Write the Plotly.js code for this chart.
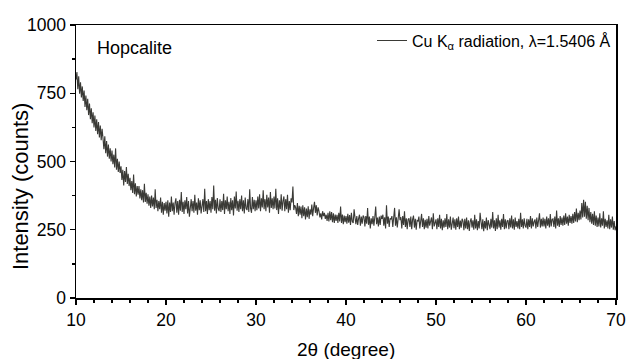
<!DOCTYPE html>
<html>
<head>
<meta charset="utf-8">
<script src="https://cdn.plot.ly/plotly-3.0.1.min.js"></script>
<style>html,body{margin:0;padding:0;background:#fff;}#chart{width:628px;height:359px;}</style>
</head>
<body>
<div id="chart"></div>
<script>
// 2θ scan grid: start 10°, step 0.1°, one value per step
const scanStart = 10.0;
const scanStep = 0.1;
// Intensity (counts), read row by row (each row = 1 degree)
const intensity = [
  800, 828, 765, 812, 748, 790, 735, 775, 722, 760,
  700, 742, 688, 730, 670, 712, 655, 695, 640, 680,
  625, 668, 612, 655, 600, 645, 588, 632, 578, 620,
  585, 545, 592, 530, 575, 518, 562, 510, 548, 500,
  540, 490, 525, 478, 548, 470, 510, 462, 500, 458,
  482, 432, 470, 412, 465, 425, 480, 418, 455, 410,
  440, 395, 428, 385, 452, 380, 420, 372, 410, 378,
  410, 365, 398, 358, 395, 350, 418, 352, 385, 345,
  380, 338, 372, 330, 375, 335, 368, 325, 398, 330,
  360, 318, 355, 325, 368, 312, 352, 305, 348, 320,
  352, 310, 358, 298, 350, 315, 372, 318, 350, 305,
  348, 365, 312, 355, 305, 360, 320, 388, 315, 352,
  308, 358, 325, 370, 310, 355, 298, 348, 362, 318,
  355, 312, 378, 320, 350, 305, 365, 322, 358, 310,
  348, 362, 315, 400, 318, 355, 308, 362, 322, 355,
  312, 370, 325, 412, 320, 360, 310, 366, 328, 318,
  362, 315, 355, 322, 382, 308, 358, 325, 372, 318,
  352, 308, 366, 322, 358, 302, 372, 328, 390, 320,
  356, 315, 362, 325, 375, 318, 358, 310, 368, 328,
  322, 362, 315, 398, 328, 312, 370, 325, 360, 318,
  358, 322, 372, 328, 380, 318, 365, 332, 395, 325,
  362, 318, 378, 332, 368, 312, 388, 330, 365, 325,
  372, 328, 400, 322, 365, 308, 358, 325, 380, 320,
  355, 372, 318, 362, 325, 378, 312, 355, 322, 365,
  350, 408, 322, 340, 332, 308, 348, 300, 338, 305,
  335, 292, 340, 300, 332, 288, 328, 296, 336, 290,
  325, 305, 342, 300, 330, 352, 312, 340, 302, 332,
  318, 295, 310, 288, 318, 300, 312, 290, 305, 282,
  312, 280, 318, 285, 315, 278, 310, 275, 306, 282,
  305, 275, 312, 280, 335, 275, 306, 270, 302, 278,
  300, 272, 308, 276, 304, 268, 312, 280, 275, 325,
  295, 270, 300, 268, 292, 305, 265, 298, 272, 302,
  296, 262, 300, 272, 330, 268, 298, 255, 292, 270,
  300, 265, 296, 335, 270, 295, 262, 298, 268, 302,
  290, 305, 265, 296, 255, 340, 272, 298, 260, 292,
  288, 300, 260, 292, 330, 265, 296, 258, 290, 325,
  285, 296, 255, 300, 268, 318, 260, 292, 252, 288,
  292, 260, 298, 252, 288, 302, 258, 290, 250, 284,
  282, 298, 255, 288, 308, 260, 292, 252, 286, 258,
  290, 255, 300, 265, 282, 295, 252, 310, 262, 280,
  288, 252, 292, 260, 305, 255, 290, 248, 285, 258,
  292, 260, 308, 252, 288, 258, 298, 250, 284, 295,
  256, 288, 250, 292, 260, 298, 252, 284, 258, 290,
  282, 248, 290, 255, 295, 252, 285, 246, 280, 292,
  258, 285, 250, 305, 255, 288, 248, 282, 255, 312,
  280, 252, 288, 245, 282, 255, 295, 248, 285, 258,
  252, 290, 258, 315, 255, 285, 246, 292, 252, 305,
  258, 285, 250, 290, 260, 308, 252, 288, 255, 282,
  285, 252, 292, 258, 302, 255, 288, 250, 295, 260,
  282, 255, 290, 252, 312, 260, 288, 255, 292, 265,
  258, 290, 252, 288, 260, 300, 255, 292, 262, 280,
  288, 255, 295, 260, 285, 310, 258, 290, 262, 295,
  262, 290, 255, 298, 265, 292, 258, 308, 262, 288,
  290, 260, 298, 255, 320, 265, 292, 260, 300, 268,
  295, 265, 302, 268, 310, 272, 298, 265, 305, 275,
  300, 272, 308, 275, 315, 280, 328, 278, 312, 285,
  320, 288, 348, 295, 360, 298, 352, 290, 338, 285,
  330, 278, 315, 272, 308, 268, 318, 265, 302, 260,
  295, 262, 310, 258, 292, 265, 318, 255, 290, 260,
  285, 255, 305, 252, 288, 258, 298, 250, 282, 248,
  262
];
const twoTheta = intensity.map((_, i) => +(scanStart + i * scanStep).toFixed(2));

const seriesName = 'Cu K<sub>α</sub> radiation, λ=1.5406 Å';
const sampleLabel = 'Hopcalite';
const xTitle = '2θ (degree)';
const yTitle = 'Intensity (counts)';

const font = 'Liberation Sans, Arial, sans-serif';

Plotly.newPlot('chart', [{
  x: twoTheta, y: intensity, type: 'scatter', mode: 'lines',
  name: seriesName,
  line: {color: '#3a3a36', width: 1.1}
}], {
  width: 628, height: 359,
  margin: {l: 76, r: 12, t: 25, b: 61},
  paper_bgcolor: '#ffffff', plot_bgcolor: '#ffffff',
  font: {family: font, size: 17, color: '#000'},
  showlegend: true,
  legend: {x: 1, xanchor: 'right', y: 1.005, yanchor: 'top', bgcolor: 'rgba(0,0,0,0)',
           font: {family: font, size: 16, color: '#000'}},
  xaxis: {
    range: [10, 70], dtick: 10, tick0: 10,
    ticks: 'outside', ticklen: 5, tickwidth: 1.3, tickcolor: '#000',
    minor: {dtick: 2, ticks: 'outside', ticklen: 3, tickwidth: 1.3, tickcolor: '#000'},
    showline: true, linecolor: '#000', linewidth: 1.5, mirror: true,
    showgrid: false, zeroline: false,
    tickfont: {size: 17.5}
  },
  yaxis: {
    range: [0, 1000], dtick: 250, tick0: 0,
    ticks: 'outside', ticklen: 5, tickwidth: 1.3, tickcolor: '#000',
    minor: {dtick: 125, ticks: 'outside', ticklen: 3, tickwidth: 1.3, tickcolor: '#000'},
    showline: true, linecolor: '#000', linewidth: 1.5, mirror: true,
    showgrid: false, zeroline: false,
    tickfont: {size: 17.5}
  },
  annotations: [
    {text: sampleLabel, xref: 'paper', yref: 'paper', x: 0.035, y: 0.916,
     xanchor: 'left', yanchor: 'middle', showarrow: false,
     font: {size: 18, color: '#000'}},
    {text: xTitle, xref: 'paper', yref: 'paper', x: 0.5, y: -0.19,
     xanchor: 'center', yanchor: 'middle', showarrow: false,
     font: {size: 19, color: '#000'}},
    {text: yTitle, xref: 'paper', yref: 'paper', x: -0.1037, y: 0.41,
     xanchor: 'center', yanchor: 'middle', showarrow: false, textangle: -90,
     font: {size: 22, color: '#000'}}
  ]
}, {displayModeBar: false, staticPlot: true});
</script>
</body>
</html>
